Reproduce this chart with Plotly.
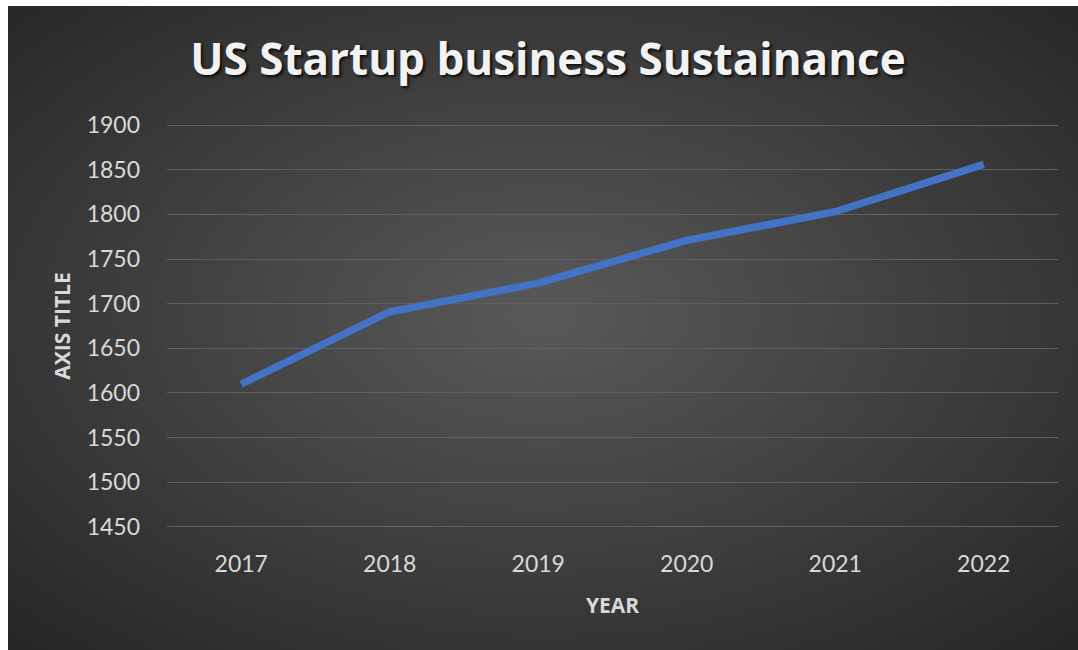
import base64
import plotly.graph_objects as go

years = ["2017", "2018", "2019", "2020", "2021", "2022"]
values = [1610, 1691, 1723, 1771, 1803, 1856]

y_ticks = [1450, 1500, 1550, 1600, 1650, 1700, 1750, 1800, 1850, 1900]

W, H = 1078, 650
L, R, T, B = 167, 20, 122, 120
pw = W - L - R
ph = H - T - B

svg = (
    '<svg xmlns="http://www.w3.org/2000/svg" width="1070" height="644" viewBox="0 0 1070 644" preserveAspectRatio="none">'
    '<defs><radialGradient id="g" cx="50%" cy="48%" r="70%">'
    '<stop offset="0%" stop-color="#595959"/>'
    '<stop offset="100%" stop-color="#272727"/>'
    '</radialGradient></defs>'
    '<rect width="1070" height="644" fill="url(#g)"/></svg>'
)
bg_uri = "data:image/svg+xml;base64," + base64.b64encode(svg.encode()).decode()

fig = go.Figure()
fig.add_trace(go.Scatter(
    x=years, y=values, mode="lines",
    line=dict(color="#4472C4", width=7.5),
    hoverinfo="x+y",
))

tick_font = dict(family="Lato", size=23, color="#d9d9d9")
title_font = dict(family="Open Sans", size=21, color="#d9d9d9", weight="bold")

fig.update_layout(
    width=W, height=H,
    paper_bgcolor="white",
    plot_bgcolor="rgba(0,0,0,0)",
    margin=dict(l=L, r=R, t=T, b=B, autoexpand=False),
    showlegend=False,
    title=dict(
        text="<b>US Startup business Sustainance</b>",
        x=548 / W, xanchor="center", xref="container",
        y=1 - 60 / H, yanchor="middle", yref="container",
        font=dict(family="Open Sans", size=44, color="#f2f2f2",
                  shadow="2px 2px 3px rgba(0,0,0,0.8)"),
    ),
    images=[dict(
        source=bg_uri, xref="paper", yref="paper",
        x=(8 - L) / pw, y=(H - B - 6) / ph,
        sizex=1070 / pw, sizey=644 / ph,
        xanchor="left", yanchor="top", sizing="stretch", layer="below",
    )],
    xaxis=dict(
        type="category",
        range=[-0.5, 5.5],
        showgrid=False, zeroline=False, showline=False,
        tickfont=tick_font,
        ticklabelstandoff=18,
        automargin=False,
        title=dict(text="YEAR", font=title_font, standoff=22),
    ),
    yaxis=dict(
        range=[1446.5, 1903.5],
        tickvals=y_ticks,
        showgrid=True, gridcolor="#606060", gridwidth=1,
        zeroline=False, showline=False,
        tickfont=tick_font,
        ticklabelstandoff=26,
        automargin=False,
        title=dict(text="AXIS TITLE", font=title_font, standoff=10),
    ),
)

fig.write_html("out.html")
